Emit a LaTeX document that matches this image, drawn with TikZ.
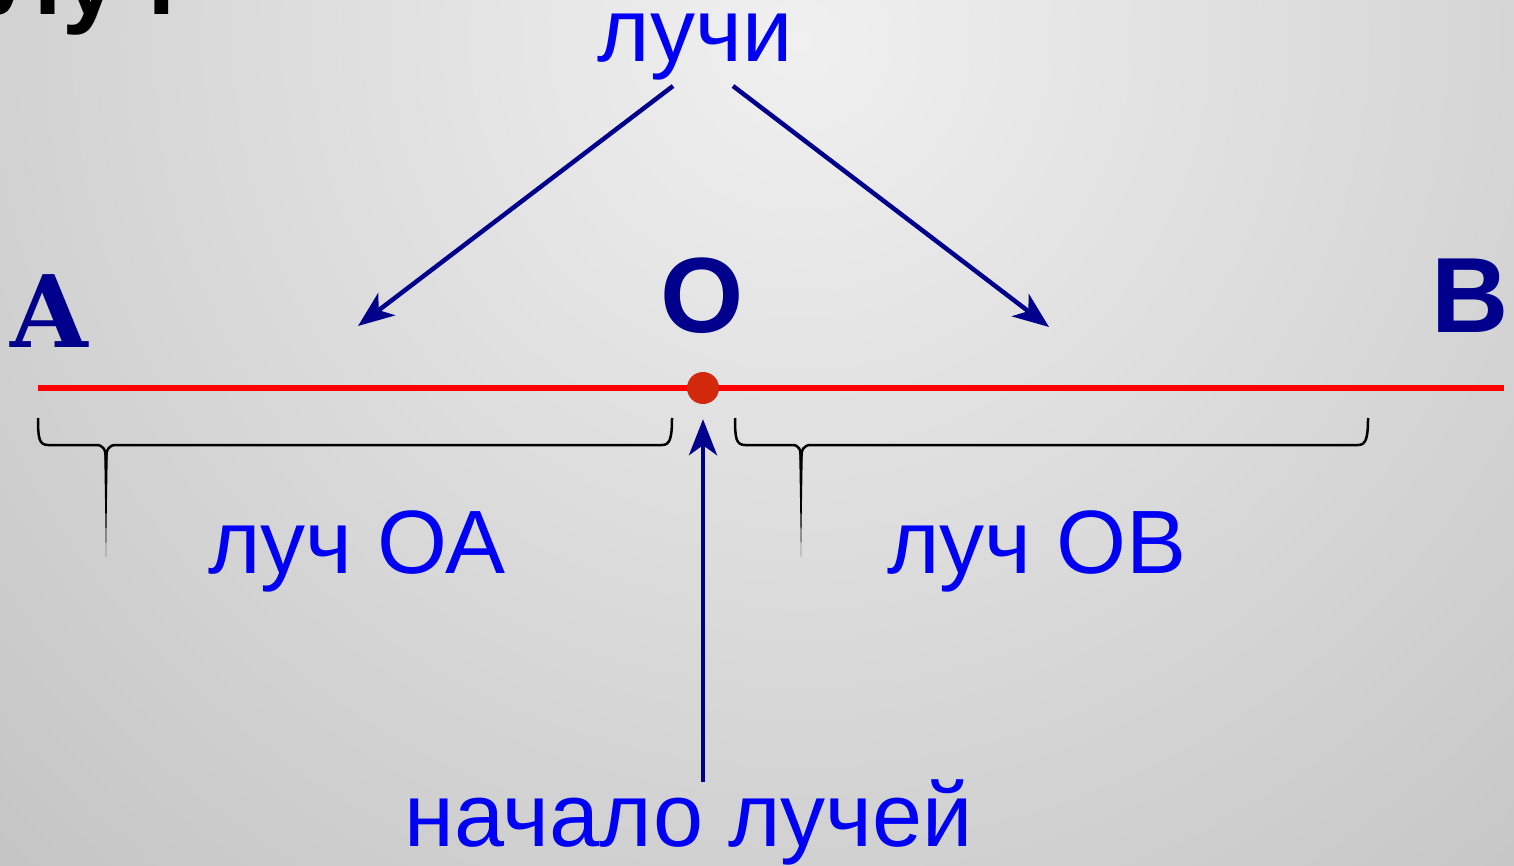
\documentclass[tikz,border=0pt]{standalone}
\usepackage{fontspec}
\setmainfont{Liberation Sans}
\newfontfamily\slabfont{DejaVu Serif}
\usetikzlibrary{arrows.meta}
\definecolor{rayblue}{RGB}{0,0,245}
\definecolor{pointblue}{RGB}{0,0,140}
\definecolor{linered}{RGB}{255,0,0}
\definecolor{dotred}{RGB}{210,40,12}
\definecolor{bglight}{RGB}{240,240,240}
\definecolor{bgdark}{RGB}{172,172,172}
\begin{document}
\begin{tikzpicture}[x=1pt,y=-1pt,
  lbl/.style={text=rayblue, font=\fontsize{90}{96}\selectfont, inner sep=0pt, anchor=base},
  pointlbl/.style={text=pointblue, font=\fontsize{107}{110}\selectfont\bfseries, inner sep=0pt, anchor=base},
  pointer/.style={draw=pointblue, line width=4.5pt, -{Stealth[length=36pt,width=28pt,inset=10pt]}},
  brace/.style={draw=black, line width=2.5pt}]
\useasboundingbox (0,0) rectangle (1514,866);
% background
\begin{scope}
\clip (0,0) rectangle (1514,866);
\shade[inner color=bglight, outer color=bgdark] (800,40) circle (1800pt);
\end{scope}
\node[font=\fontsize{100}{100}\selectfont\bfseries, anchor=base east, inner sep=0pt] (title) at (176,15) {Луч};
% labels
\node[lbl, text height=48pt] (rays) at (695,62) {лучи};
\node[pointlbl, font=\fontsize{100}{100}\selectfont\slabfont\bfseries] (lbA) at (49,347) {A};
\node[pointlbl] (lbO) at (702,333) {O};
\node[pointlbl] (lbB) at (1470,333) {B};
\node[lbl] (rayOA) at (357,573) {луч ОА};
\node[lbl] (rayOB) at (1037,573) {луч ОВ};
\node[lbl] (origin) at (689,846) {начало лучей};
% the line and its point
\coordinate (endA) at (38,388);
\coordinate (endB) at (1504,388);
\draw[linered, line width=6pt] (endA) -- (endB);
\node[circle, fill=dotred, minimum size=32pt, inner sep=0pt] (ptO) at (703,388) {};
% braces
\draw[brace] (38,418) .. controls (38,438) and (39,445) .. (48,445) -- (96,445) .. controls (103,445) and (106,449) .. (106,460);
\draw[brace] (106,460) .. controls (106,449) and (109,445) .. (116,445) -- (662,445) .. controls (670,445) and (672,438) .. (672,418);
\fill (104.2,452) -- (107.8,452) -- (106,557) -- cycle;
\draw[brace] (735,418) .. controls (735,438) and (736,445) .. (745,445) -- (792,445) .. controls (799,445) and (801,449) .. (801,460);
\draw[brace] (801,460) .. controls (801,449) and (804,445) .. (811,445) -- (1358,445) .. controls (1366,445) and (1368,438) .. (1368,418);
\fill (799.2,452) -- (802.8,452) -- (801,557) -- cycle;
% pointers
\coordinate (raysL) at (673,86);
\coordinate (tipA) at (358,326);
\coordinate (raysR) at (733,86);
\coordinate (tipB) at (1049,327);
\coordinate (startO) at (703,782);
\draw[pointer] (raysL) -- (tipA);
\draw[pointer] (raysR) -- (tipB);
\draw[pointer, shorten >=15pt] (startO) -- (ptO);
\end{tikzpicture}
\end{document}
